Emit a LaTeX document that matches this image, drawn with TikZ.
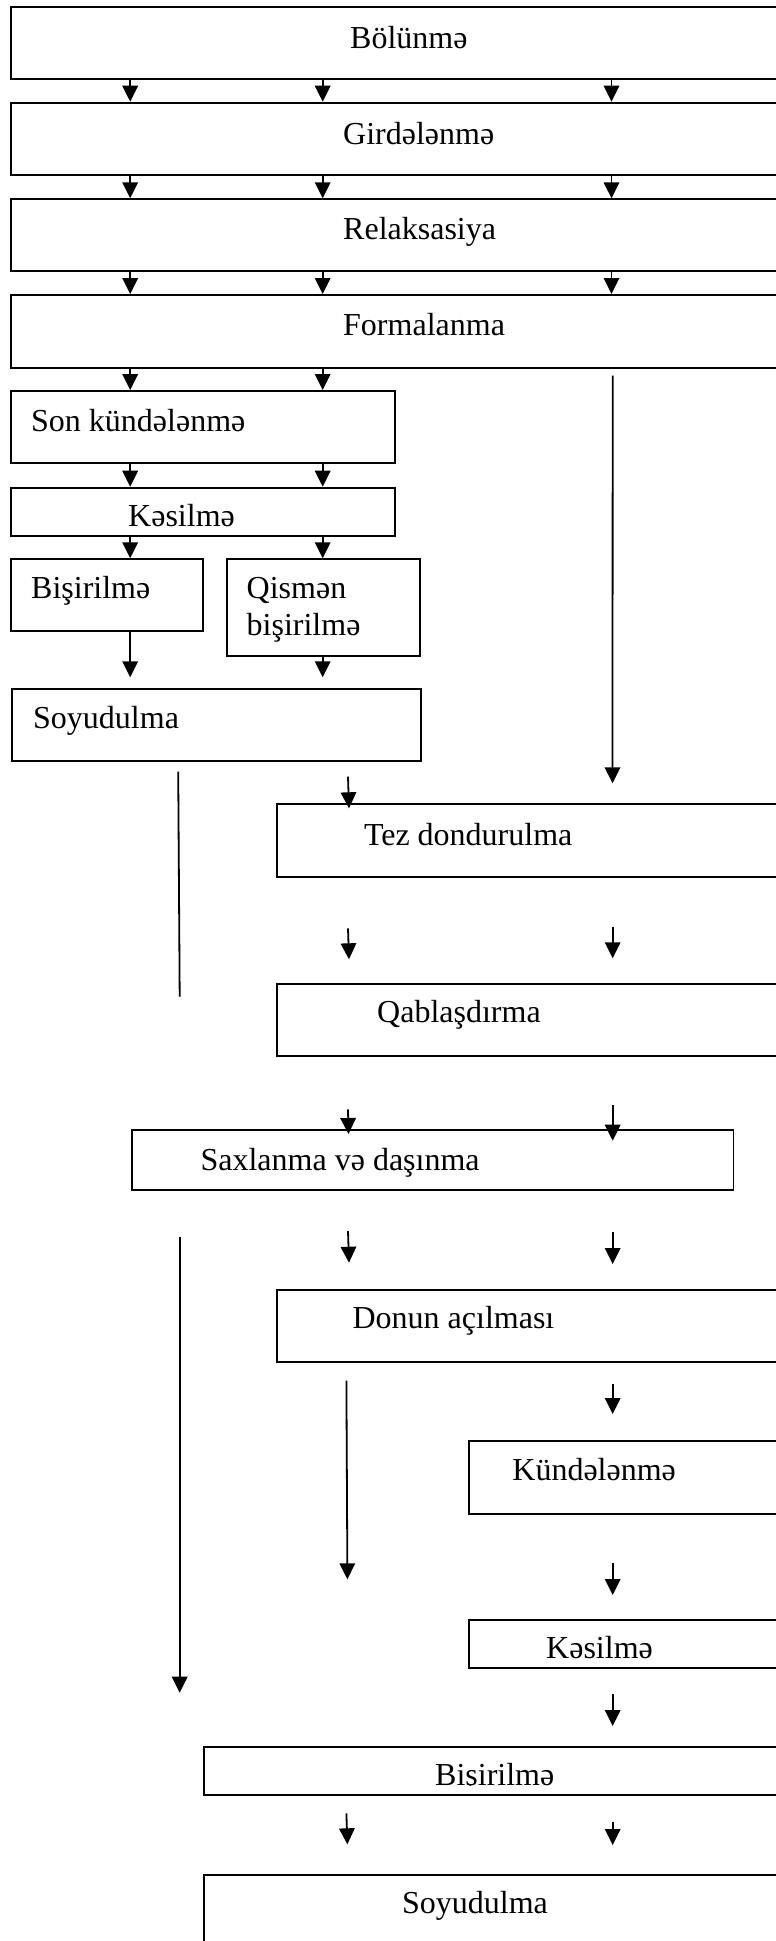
\documentclass[tikz,border=0pt]{standalone}
\usepackage{fontspec}
\setmainfont{Liberation Serif}
\usetikzlibrary{arrows.meta}
\begin{document}
\begin{tikzpicture}[x=1pt,y=-1pt,
  box/.style={draw, line width=1.8pt, inner sep=0pt, anchor=north west},
  lbl/.style={inner sep=0pt, anchor=base west, font=\fontsize{32}{37}\selectfont},
  arr/.style={line width=1.8pt, -{Triangle[length=16pt,width=15.5pt]}},
  ln/.style={line width=1.8pt}]
\useasboundingbox (0,0) rectangle (776,1941);
\clip (0,0) rectangle (776,1941);
% columns
\coordinate (cA) at (130.2,0);
\coordinate (cB) at (322.7,0);
\coordinate (cC) at (611.5,0);
% boxes
\node[box, minimum width=790pt, minimum height=72.3pt] (b1) at (9.9,6) {};
\node[box, minimum width=790pt, minimum height=72.3pt] (b2) at (9.9,101.7) {};
\node[box, minimum width=790pt, minimum height=71.7pt] (b3) at (9.9,198.3) {};
\node[box, minimum width=790pt, minimum height=72.7pt] (b4) at (9.9,294) {};
\node[box, minimum width=384.5pt, minimum height=72.3pt] (b5) at (9.9,390) {};
\node[box, minimum width=384.5pt, minimum height=48pt] (b6) at (9.9,486.7) {};
\node[box, minimum width=192.1pt, minimum height=71.7pt] (b7) at (9.9,558.3) {};
\node[box, minimum width=192.5pt, minimum height=96.7pt] (b8) at (226.2,558.3) {};
\node[box, minimum width=408.8pt, minimum height=72.3pt] (b9) at (11.4,687.7) {};
\node[box, minimum width=520pt, minimum height=72.7pt] (b10) at (275.7,803.3) {};
\node[box, minimum width=520pt, minimum height=71.7pt] (b11) at (275.7,983.3) {};
\node[box, minimum width=601.3pt, minimum height=59.7pt] (b12) at (131.2,1129.3) {};
\node[box, minimum width=520pt, minimum height=71.7pt] (b13) at (275.7,1289) {};
\node[box, minimum width=330pt, minimum height=72.7pt] (b14) at (467.7,1440) {};
\node[box, minimum width=330pt, minimum height=47.7pt] (b15) at (467.7,1619) {};
\node[box, minimum width=600pt, minimum height=48.3pt] (b16) at (203.4,1746) {};
\node[box, minimum width=600pt, minimum height=90pt] (b17) at (203.4,1874) {};
% texts
\node[lbl] (t1) at (350,48.3) {Bölünmə};
\node[lbl] (t2) at (343,144) {Girdələnmə};
\node[lbl] (t3) at (343,239.4) {Relaksasiya};
\node[lbl] (t4) at (343,335) {Formalanma};
\node[lbl] (t5) at (31,431.7) {Son kündələnmə};
\begin{scope}
  \clip (100,490) rectangle (300,526.5);
  \node[lbl] (t6) at (128,526) {Kəsilmə};
\end{scope}
\node[lbl] (t7) at (31,598.3) {Bişirilmə};
\node[lbl, align=left] (t8) at (246.5,635.7) {Qismən\\bişirilmə};
\node[lbl] (t9) at (33,728.3) {Soyudulma};
\node[lbl] (t10) at (363.8,845) {Tez dondurulma};
\node[lbl] (t11) at (377,1022.7) {Qablaşdırma};
\node[lbl] (t12) at (200.4,1170) {Saxlanma və daşınma};
\node[lbl] (t13) at (352.4,1328.3) {Donun açılması};
\node[lbl] (t14) at (512.2,1480.7) {Kündələnmə};
\begin{scope}
  \clip (520,1625) rectangle (700,1660);
  \node[lbl] (t15) at (546,1658.7) {Kəsilmə};
\end{scope}
\begin{scope}
  \clip (420,1750) rectangle (600,1785.7);
  \node[lbl] (t16) at (435,1785.3) {Bişirilmə};
\end{scope}
\node[lbl] (t17) at (401.9,1913.3) {Soyudulma};
% connectors between boxes
\foreach \c in {cA,cB,cC}{
  \draw[arr] (b1.south -| \c) -- (b2.north -| \c);
  \draw[arr] (b2.south -| \c) -- (b3.north -| \c);
  \draw[arr] (b3.south -| \c) -- (b4.north -| \c);
}
\foreach \c in {cA,cB}{
  \draw[arr] (b4.south -| \c) -- (b5.north -| \c);
  \draw[arr] (b5.south -| \c) -- (b6.north -| \c);
}
\draw[arr] (b6.south -| cA) -- (b7.north -| cA);
\draw[arr] (b6.south -| cB) -- (b8.north -| cB);
\coordinate (e7) at (130.2,677.3);
\coordinate (e8) at (322.7,677.3);
\draw[arr] (b7.south -| cA) -- (e7);
\draw[arr] (b8.south -| cB) -- (e8);
% free segments
\coordinate (r1s) at (612.7,375.7);  \coordinate (r1e) at (612.5,783.3);
\draw[arr] (r1s) -- (r1e);
\coordinate (l1s) at (178.2,771.7);  \coordinate (l1e) at (179.7,996.7);
\draw[ln] (l1s) -- (l1e);
\coordinate (a1s) at (348,776.7);    \coordinate (a1e) at (349,808.3);
\draw[arr] (a1s) -- (a1e);
\coordinate (a2s) at (348,928.3);    \coordinate (a2e) at (349,959.3);
\draw[arr] (a2s) -- (a2e);
\coordinate (a3s) at (612.7,926.7);  \coordinate (a3e) at (612.7,958.3);
\draw[arr] (a3s) -- (a3e);
\coordinate (a4s) at (348,1109.3);   \coordinate (a4e) at (348.5,1134);
\draw[arr] (a4s) -- (a4e);
\coordinate (a5s) at (612.7,1105);   \coordinate (a5e) at (612.7,1140.7);
\draw[arr] (a5s) -- (a5e);
\coordinate (l2s) at (179.7,1237.3); \coordinate (l2e) at (179.7,1692.7);
\draw[arr] (l2s) -- (l2e);
\coordinate (a6s) at (348,1231);     \coordinate (a6e) at (349,1262.7);
\draw[arr] (a6s) -- (a6e);
\coordinate (a7s) at (612.7,1232.3); \coordinate (a7e) at (612.7,1264);
\draw[arr] (a7s) -- (a7e);
\coordinate (l3s) at (346.4,1380.7); \coordinate (l3e) at (347.4,1579.3);
\draw[arr] (l3s) -- (l3e);
\coordinate (a8s) at (612.7,1384);   \coordinate (a8e) at (612.7,1414);
\draw[arr] (a8s) -- (a8e);
\coordinate (a9s) at (612.7,1563.3); \coordinate (a9e) at (612.7,1595);
\draw[arr] (a9s) -- (a9e);
\coordinate (a10s) at (612.7,1694);  \coordinate (a10e) at (612.7,1726);
\draw[arr] (a10s) -- (a10e);
\coordinate (a11s) at (346.4,1813.3); \coordinate (a11e) at (347.4,1844.3);
\draw[arr] (a11s) -- (a11e);
\coordinate (a12s) at (612.7,1821.7); \coordinate (a12e) at (612.7,1845);
\draw[arr] (a12s) -- (a12e);
\end{tikzpicture}
\end{document}
